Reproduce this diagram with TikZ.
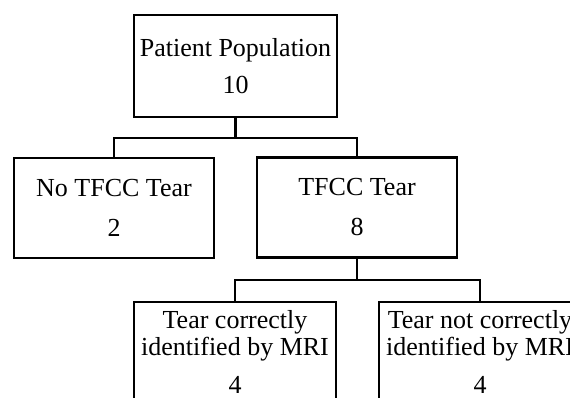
\documentclass[tikz,border=0pt]{standalone}
\usepackage{fontspec}
\setmainfont{Liberation Serif}
\begin{document}
\begin{tikzpicture}[x=1pt,y=-1pt,
  box/.style={draw=black, line width=2.6pt, fill=white, align=center, inner sep=0pt,
    minimum height=100pt, font=\fontsize{26}{27}\selectfont},
  conn/.style={draw=black, line width=2.6pt}]
\useasboundingbox (0,0) rectangle (570,398);
\clip (0,0) rectangle (570,398);
\node[box, minimum width=203pt, minimum height=102pt] (top) at (235.5,66) {Patient Population\\[10pt]10};
\node[box, minimum width=200pt] (no) at (114,208) {No TFCC Tear\\[13pt]2};
\node[box, minimum width=200pt] (yes) at (357,207.5) {TFCC Tear\\[13pt]8};
\node[box, minimum width=202pt] (corr) at (235,352) {Tear correctly\\identified by MRI\\[11pt]4};
\node[box, minimum width=202pt] (notc) at (480,352) {Tear not correctly\\identified by MRI\\[11pt]4};
\coordinate (j1) at (235.5,138);
\coordinate (j2) at (357,280);
\draw[conn] (top.south) -- (j1);
\draw[conn] (j1) -| (no.north);
\draw[conn] (j1) -| (yes.north);
\draw[conn] (yes.south) -- (j2);
\draw[conn] (j2) -| (corr.north);
\draw[conn] (j2) -| (notc.north);
\end{tikzpicture}
\end{document}
